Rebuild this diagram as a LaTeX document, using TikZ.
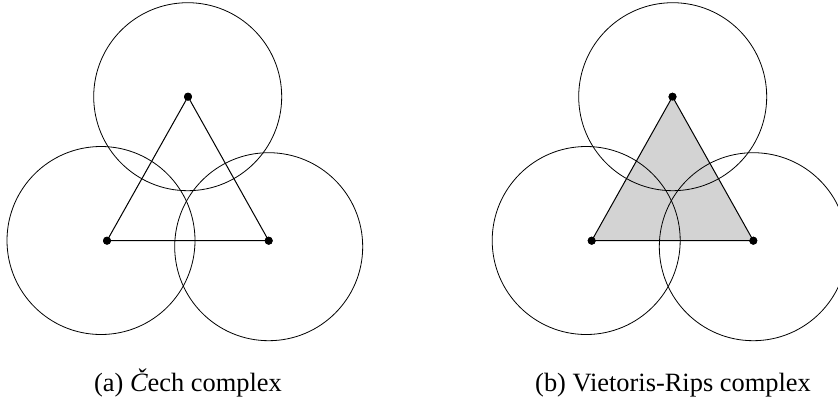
\documentclass[tikz,border=0pt]{standalone}
\usepackage{fontspec}
\setmainfont{Liberation Serif}
\definecolor{simplex}{RGB}{211,211,211}
\begin{document}
\begin{tikzpicture}[x=1pt,y=-1pt,
  ball/.style={draw=black,line width=0.8pt},
  edge/.style={draw=black,line width=1pt},
  vertex/.style={circle,fill=black,inner sep=0pt,minimum size=8pt},
  caption/.style={anchor=base,font=\fontsize{26.4}{31}\selectfont}]
\useasboundingbox (0,0) rectangle (838,405);
% (a) Cech complex
\node[vertex] (a1) at (107,240.7) {};
\node[vertex] (a2) at (268.7,240.7) {};
\node[vertex] (a3) at (188,96.7) {};
\draw[edge] (a1.center) -- (a2.center) -- (a3.center) -- (a1.center);
\draw[ball] (101,240.5) circle (94);
\draw[ball] (268.7,246.7) circle (94);
\draw[ball] (187.7,96.7) circle (94);
\node[vertex] at (a1) {};
\node[vertex] at (a2) {};
\node[vertex] at (a3) {};
\node[caption] (capa) at (188,391) {(a) {\itshape Č}ech complex};
% (b) Vietoris-Rips complex
\node[vertex] (b1) at (591.7,240.7) {};
\node[vertex] (b2) at (753.3,240.7) {};
\node[vertex] (b3) at (672.5,96.7) {};
\fill[simplex] (b1.center) -- (b2.center) -- (b3.center) -- cycle;
\draw[edge] (b1.center) -- (b2.center) -- (b3.center) -- (b1.center);
\draw[ball] (586.2,240.5) circle (94);
\draw[ball] (753.3,246.7) circle (94);
\draw[ball] (672.7,96.7) circle (94);
\node[vertex] at (b1) {};
\node[vertex] at (b2) {};
\node[vertex] at (b3) {};
\node[caption] (capb) at (673,391) {(b) Vietoris-Rips complex};
\end{tikzpicture}
\end{document}
